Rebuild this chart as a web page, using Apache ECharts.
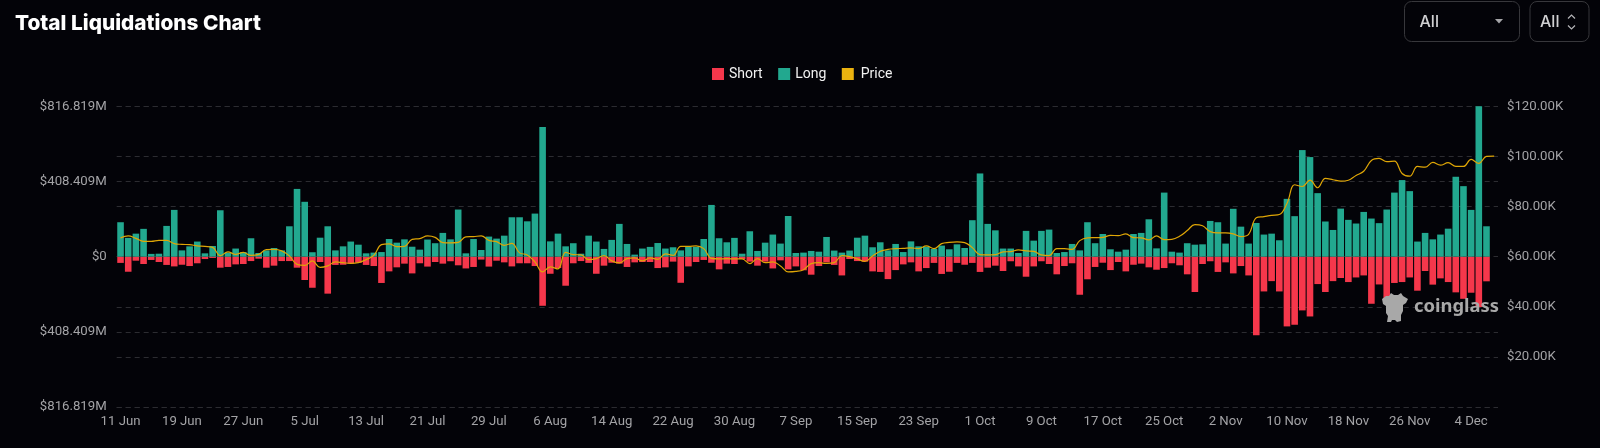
<!DOCTYPE html>
<html lang="en">

<head>
    <meta charset="UTF-8">
    <title>Total Liquidations Chart</title>
    <script src="https://cdn.jsdelivr.net/npm/echarts@6/dist/echarts.min.js"></script>
    <style>
        html, body { margin: 0; padding: 0; background: #030308; }
    </style>
</head>

<body>
    <div id="main" style="width: 1600px;height:448px;"></div>
    <script type="text/javascript">
        // daily liquidations in $M. last day (7 Dec) only has a price
        const long = [187,102,125,151,15,16,167,254,34,56,82,18,58,252,22,44,25,100,20,34,47,34,165,368,298,24,103,165,34,56,82,65,18,22,25,96,76,94,54,38,93,73,129,94,256,18,96,36,109,98,114,214,214,192,234,704,83,125,56,73,
            16,114,82,42,91,178,69,11,44,53,74,44,51,34,53,53,96,281,100,78,102,16,138,31,76,120,71,221,20,22,31,27,107,33,22,33,103,114,51,78,34,69,25,83,56,54,42,60,40,67,47,198,452,178,143,44,44,20,140,87,140,147,
            20,25,69,34,187,73,123,40,27,38,123,129,203,45,348,27,22,73,65,67,194,187,71,260,163,71,183,120,125,89,314,220,579,541,345,191,145,261,200,180,243,207,182,256,348,416,356,82,129,94,120,152,434,383,254,816.819,165]
        const short = [34,82,22,40,18,29,45,53,44,51,36,13,7,60,56,42,40,24,11,60,49,24,24,60,127,169,29,201,45,44,38,33,45,51,143,80,58,38,91,36,54,29,38,25,47,64,56,16,54,22,31,53,36,36,51,267,93,62,158,36,
            24,34,93,49,33,38,56,31,29,29,62,58,27,142,53,29,18,33,69,38,40,13,27,49,27,64,20,69,53,74,98,51,31,45,102,13,24,27,80,83,122,73,42,31,80,62,34,94,82,34,44,34,83,60,49,78,25,53,109,53,25,40,
            96,51,36,207,123,56,33,73,29,80,44,38,58,71,62,36,47,96,192,40,25,83,31,91,51,102,427,189,133,189,379,370,292,325,149,192,133,116,138,113,102,256,151,229,143,138,113,185,78,152,118,138,194,229,196,274,134]
        // BTC price in $K
        const price = [67.5,68.3,67.3,66.1,66.1,66.5,66.5,65.2,64.9,64.8,64.3,64.1,63.7,60.4,61.9,60.9,61.7,60.5,60.9,62.8,62.9,62.3,60.3,56.9,56.5,58.3,55.7,56.3,57.9,57.6,57.3,57.6,58.8,60.5,64.8,65.1,64.0,64.1,66.9,67.2,68.3,67.7,65.6,65.5,65.7,67.9,68.0,68.3,66.5,66.0,64.5,65.3,61.5,60.7,57.9,53.9,55.9,55.1,61.7,60.8,
            60.7,58.8,59.2,60.4,58.3,57.5,59.2,59.5,58.3,59.5,58.9,61.1,60.5,64.1,64.1,64.3,63.2,59.3,59.1,59.2,59.1,59.1,57.2,59.2,57.6,57.9,56.3,53.9,54.1,54.8,57.2,57.6,57.3,57.6,60.4,60.0,59.1,58.1,60.3,62.1,62.9,63.2,63.3,63.5,63.2,64.3,63.2,65.2,65.7,65.9,65.6,63.6,60.8,60.7,60.8,61.9,62.0,62.7,62.3,62.1,60.7,60.4,
            63.2,63.2,62.9,66.4,67.5,67.6,67.7,68.5,68.4,69.1,67.6,67.5,66.7,68.3,66.8,66.9,68.1,70.4,72.8,72.3,70.0,69.5,69.5,69.1,68.0,68.9,75.5,76.0,76.5,76.8,81.2,88.7,88.0,90.5,87.5,91.2,90.7,90.1,90.5,92.4,94.1,98.4,99.2,97.9,98.1,93.2,92.1,96.0,95.7,97.6,96.5,97.5,96.0,96.0,98.8,97.2,100.0,100.1]

        // one label per day from 11 Jun to 7 Dec
        const months = ['Jan','Feb','Mar','Apr','May','Jun','Jul','Aug','Sep','Oct','Nov','Dec']
        const days = []
        for (let i = 0; i < price.length; i++) {
            const d = new Date(Date.UTC(2024, 5, 11 + i))
            days.push(d.getUTCDate() + ' ' + months[d.getUTCMonth()])
        }

        const gridLine = { show: true, lineStyle: { color: '#2c2c31', type: [5, 4], width: 1 } }
        const tickFont = { color: '#a3a3a6', fontSize: 13.2, fontFamily: 'Roboto' }

        let options = {
            backgroundColor: '#030308',
            animation: false,
            title: {
                text: 'Total Liquidations Chart', left: 10, top: 8,
                textStyle: { color: '#fff', fontSize: 20.8, fontWeight: 800, fontFamily: 'Inter' }
            },
            legend: {
                left: 707, top: 62, itemWidth: 12, itemHeight: 12, itemGap: 15.5, icon: 'rect',
                textStyle: { color: '#f2f2f2', fontSize: 14, fontFamily: 'Roboto' },
                data: ['Short', 'Long', { name: 'Price', textStyle: { padding: [0, 0, 0, 2] } }]
            },
            grid: { left: 116.7, right: 102, top: 106.3, height: 300.7 },
            xAxis: {
                type: 'category',
                data: days,
                axisLine: { show: false },
                axisTick: { show: false },
                axisLabel: { ...tickFont, interval: 7, margin: 8 }
            },
            yAxis: [{
                type: 'value',
                min: -816.819, max: 816.819, interval: 408.4095,
                axisLine: { show: false },
                axisTick: { show: false },
                splitLine: gridLine,
                axisLabel: {
                    ...tickFont, margin: 10,
                    formatter: v => {
                        if (v === 0) return '$0'
                        return '$' + (Math.floor(Math.abs(v) * 1000 + 1e-6) / 1000).toFixed(3) + 'M'
                    }
                }
            }, {
                type: 'value',
                min: 0, max: 120, interval: 20,
                axisLine: { show: false },
                axisTick: { show: false },
                splitLine: gridLine,
                axisLabel: {
                    ...tickFont, margin: 9,
                    formatter: v => v === 0 ? '' : '$' + v.toFixed(2) + 'K'
                }
            }],
            series: [{
                name: 'Short',
                type: 'bar',
                stack: 'liq',
                barWidth: 6.6,
                itemStyle: { color: '#f5374b' },
                data: short.map(v => -v)
            }, {
                name: 'Long',
                type: 'bar',
                stack: 'liq',
                barWidth: 6.6,
                itemStyle: { color: '#22a88f' },
                data: long
            }, {
                name: 'Price',
                type: 'line',
                yAxisIndex: 1,
                smooth: 0.4,
                showSymbol: false,
                itemStyle: { color: '#eab20f' },
                lineStyle: { color: '#dfa606', width: 1.2 },
                data: price,
                z: 5
            }],
            graphic: [
                // the two dropdowns top right
                { type: 'rect', shape: { x: 1404.5, y: 1.5, width: 115, height: 40, r: 7 }, style: { fill: 'none', stroke: '#37373b', lineWidth: 1 } },
                { type: 'text', x: 1419.5, y: 14, style: { text: 'All', fill: '#d0d0d2', font: '500 16px Inter' } },
                { type: 'polygon', shape: { points: [[1495, 19], [1503, 19], [1499, 23.5]] }, style: { fill: '#a5a5a8' } },
                { type: 'rect', shape: { x: 1530, y: 1.5, width: 59, height: 40, r: 7 }, style: { fill: 'none', stroke: '#37373b', lineWidth: 1 } },
                { type: 'text', x: 1540, y: 14, style: { text: 'All', fill: '#d0d0d2', font: '500 16px Inter' } },
                { type: 'polyline', shape: { points: [[1568, 18.5], [1571.5, 15], [1575, 18.5]] }, style: { fill: 'none', stroke: '#b5b5b8', lineWidth: 1.2 } },
                { type: 'polyline', shape: { points: [[1568, 25.5], [1571.5, 29], [1575, 25.5]] }, style: { fill: 'none', stroke: '#b5b5b8', lineWidth: 1.2 } },
                // watermark
                {
                    type: 'polygon', z: 50,
                    shape: { points: [[1382, 299], [1386, 296], [1389, 296], [1391, 293], [1394, 295], [1398, 295], [1401, 293], [1403, 296], [1408, 299], [1406, 303], [1403, 305], [1403, 311], [1401, 315], [1401, 321], [1397, 322], [1395, 320], [1392, 320], [1391, 322], [1387, 322], [1388, 316], [1386, 313], [1386, 306], [1383, 304]] },
                    style: { fill: '#a8a8a8' }
                },
                { type: 'text', z: 50, x: 1414, y: 298, style: { text: 'coinglass', fill: '#a8a8a8', font: '700 18.4px "Noto Sans"' } }
            ]
        };

        let myChart = echarts.init(document.getElementById('main'));
        myChart.setOption(options);
    </script>
</body>

</html>
